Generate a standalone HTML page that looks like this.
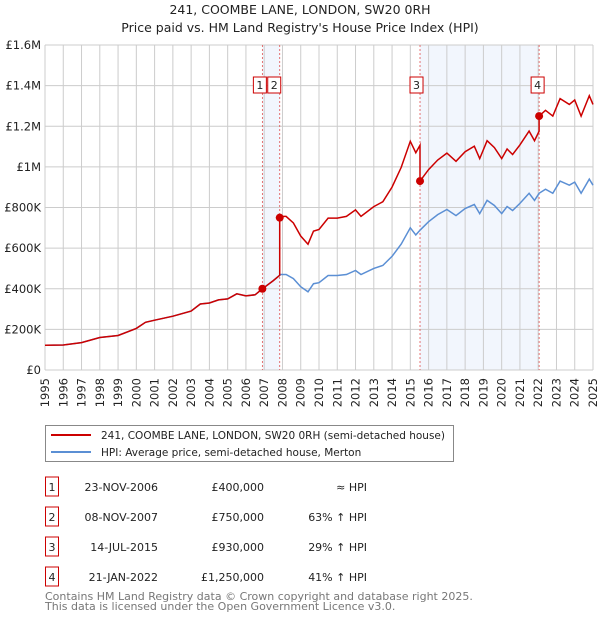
<!DOCTYPE html>
<html><head><meta charset="utf-8"><style>
body{margin:0;background:#fff;font-family:"Liberation Sans","DejaVu Sans",sans-serif}
svg text{font-family:"DejaVu Sans","Liberation Sans",sans-serif}
</style></head><body>
<svg id="c" width="600" height="620" viewBox="0 0 600 620" xmlns="http://www.w3.org/2000/svg">
<text x="300" y="14" text-anchor="middle" font-size="12.5" fill="#222">241, COOMBE LANE, LONDON, SW20 0RH</text>
<text x="300" y="32" text-anchor="middle" font-size="12.5" fill="#222">Price paid vs. HM Land Registry's House Price Index (HPI)</text>
<g id="plot"></g>
<g>
<rect x="45.5" y="425.5" width="408" height="36" fill="#fff" stroke="#888"/>
<line x1="51" y1="435" x2="91" y2="435" stroke="#cc0000" stroke-width="2"/>
<text x="101" y="439" font-size="10.5" fill="#222">241, COOMBE LANE, LONDON, SW20 0RH (semi-detached house)</text>
<line x1="51" y1="452" x2="91" y2="452" stroke="#5b8fd4" stroke-width="2"/>
<text x="101" y="456" font-size="10.5" fill="#222">HPI: Average price, semi-detached house, Merton</text>
</g>
<g id="table"></g>
<text x="45" y="600" font-size="11" fill="#777">Contains HM Land Registry data © Crown copyright and database right 2025.</text>
<text x="45" y="610" font-size="11" fill="#777">This data is licensed under the Open Government Licence v3.0.</text>
</svg>
<script>
const hpiYears=[1995,1996,1997,1998,1999,2000,2000.5,2001,2002,2003,2003.5,2004,2004.5,2005,2005.5,2006,2006.5,2006.9,2007.5,2007.9,2008.2,2008.6,2009,2009.4,2009.7,2010,2010.5,2011,2011.5,2012,2012.3,2013,2013.5,2014,2014.5,2015,2015.3,2015.55,2016,2016.5,2017,2017.5,2018,2018.5,2018.8,2019.2,2019.6,2020,2020.3,2020.6,2021,2021.5,2021.8,2022.05,2022.4,2022.8,2023.2,2023.7,2024.0,2024.35,2024.8,2025.0];
const hpiValues=[122,123,135,160,170,205,235,245,265,290,325,330,345,350,375,365,370,400,440,470,470,450,410,385,425,430,465,465,470,490,470,500,515,560,620,700,665,690,730,765,790,760,795,815,770,835,810,770,805,785,820,870,835,870,890,870,930,910,925,870,940,910];
const saleLabels=["1","2","3","4"];
const saleYears=[2006.9,2007.85,2015.53,2022.05];
const salePrices=[400,750,930,1250];
const saleDates=["23-NOV-2006","08-NOV-2007","14-JUL-2015","21-JAN-2022"];
const salePriceText=["£400,000","£750,000","£930,000","£1,250,000"];
const saleHpiText=["≈ HPI","63% ↑ HPI","29% ↑ HPI","41% ↑ HPI"];
const yTicks=[0,200,400,600,800,1000,1200,1400,1600];
const yTickLabels=["£0","£200K","£400K","£600K","£800K","£1M","£1.2M","£1.4M","£1.6M"];

const X0=45,X1=593,Y0=370,Y1=45;
const xs=y=>X0+(y-1995)/30*(X1-X0);
const ys=v=>Y0-v/1600*(Y0-Y1);
const NS="http://www.w3.org/2000/svg";
const plot=document.getElementById('plot');
function mk(tag,attrs,parent){const e=document.createElementNS(NS,tag);for(const k in attrs)e.setAttribute(k,attrs[k]);(parent||plot).appendChild(e);return e;}
function hpiAt(t){for(let i=0;i<hpiYears.length-1;i++){if(t<=hpiYears[i+1]){const f=(t-hpiYears[i])/(hpiYears[i+1]-hpiYears[i]);return hpiValues[i]+f*(hpiValues[i+1]-hpiValues[i]);}}return hpiValues[hpiValues.length-1];}

[[0,1],[2,3]].forEach(p=>{const r=mk('rect',{x:xs(saleYears[p[0]]),y:Y1,width:xs(saleYears[p[1]])-xs(saleYears[p[0]]),height:Y0-Y1,fill:'#f2f6fd'});

});
for(let yr=1995;yr<=2025;yr++){const l=mk('line',{x1:xs(yr),x2:xs(yr),y1:Y1,y2:Y0,stroke:'#ccc','stroke-width':1});


const t=mk('text',{x:0,y:0,'font-size':11.5,fill:'#222','text-anchor':'end',transform:`translate(${xs(yr)+4},${Y0+8}) rotate(-90)`});


t.textContent=yr;}
yTicks.forEach((v,i)=>{const l=mk('line',{x1:X0,x2:X1,y1:ys(v),y2:ys(v),stroke:'#ccc','stroke-width':1});


const t=mk('text',{x:X0-4,y:ys(v)+4,'font-size':11.5,fill:'#222','text-anchor':'end'});


t.textContent=yTickLabels[i];});
const boxOff=[-9,-12,-10,-8];
saleYears.forEach((s,i)=>{const l=mk('line',{x1:xs(s),x2:xs(s),y1:Y1,y2:Y0,stroke:'#e05050','stroke-width':0.8,'stroke-dasharray':'2,2'});


const bx=xs(s)+boxOff[i];
const r=mk('rect',{x:bx,y:77,width:13,height:16,fill:'#fff',stroke:'#cc0000'});


const t=mk('text',{x:bx+6.5,y:89,'font-size':11,'text-anchor':'middle',fill:'#222'});


t.textContent=saleLabels[i];});
let d='';hpiYears.forEach((yr,i)=>{d+=(i?'L':'M')+xs(yr).toFixed(1)+','+ys(hpiValues[i]).toFixed(1);});
const hp=mk('path',{d:d,fill:'none',stroke:'#5b8fd4','stroke-width':1.5});


const pts=[];const grid=[...hpiYears];saleYears.forEach(s=>{grid.push(s-0.001);grid.push(s);});grid.sort((a,b)=>a-b);
grid.forEach(t=>{let idx=-1;saleYears.forEach((s,i)=>{if(t>=s)idx=i;});let v;
if(idx<0)v=hpiAt(t)*salePrices[0]/hpiAt(saleYears[0]);else v=hpiAt(t)*salePrices[idx]/hpiAt(saleYears[idx]);pts.push([t,v]);});
let d2='';pts.forEach((p,i)=>{d2+=(i?'L':'M')+xs(p[0]).toFixed(1)+','+ys(p[1]).toFixed(1);});
const pp=mk('path',{d:d2,fill:'none',stroke:'#cc0000','stroke-width':1.5});


saleYears.forEach((s,i)=>{const c=mk('circle',{cx:xs(s),cy:ys(salePrices[i]),r:4,fill:'#cc0000'});

});
const tb=document.getElementById('table');
saleLabels.forEach((lab,i)=>{const y=483+i*30;
const r=mk('rect',{x:45.5,y:y-6,width:13,height:19,fill:'#fff',stroke:'#cc0000'},tb);


[[lab,52,'middle'],[saleDates[i],158,'end'],[salePriceText[i],264,'end'],[saleHpiText[i],367,'end']].forEach(c=>{
const t=mk('text',{x:c[1],y:y+8,'font-size':11,'text-anchor':c[2],fill:'#222'},tb);


t.textContent=c[0];});});
</script>
</body></html>
